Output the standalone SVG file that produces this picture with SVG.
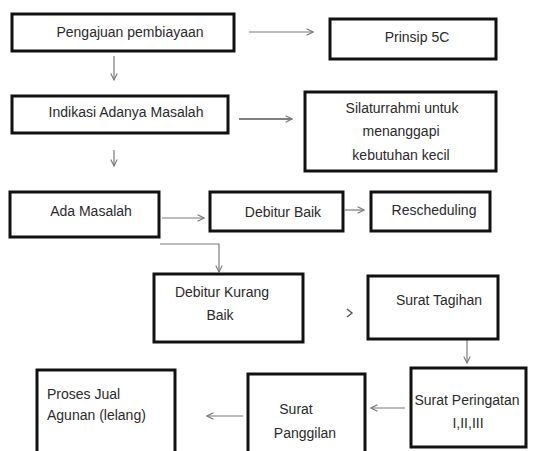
<svg xmlns="http://www.w3.org/2000/svg" width="533" height="451" viewBox="0 0 533 451">
<style>
.box{fill:#fff;stroke:#111;stroke-width:3}
.t{font-family:"Liberation Sans",Arial,sans-serif;font-size:14px;fill:#2a2a2a;text-anchor:middle}
.l{text-anchor:start}
.c{fill:none;stroke:#7a7a7a;stroke-width:1.2}
</style>
<defs>
<marker id="ah" viewBox="0 0 10 10" refX="9" refY="5" markerWidth="8" markerHeight="8" markerUnits="userSpaceOnUse" orient="auto">
<path d="M1,1 L9,5 L1,9" fill="none" stroke="#7a7a7a" stroke-width="1.4"/>
</marker>
</defs>
<rect width="533" height="451" fill="#fff"/>
<g id="connectors">
<line class="c" x1="249" y1="32" x2="313" y2="32" marker-end="url(#ah)"/>
<line class="c" x1="114" y1="56" x2="114" y2="80" marker-end="url(#ah)"/>
<line class="c" x1="239" y1="119" x2="292" y2="119" marker-end="url(#ah)" style="stroke:#555;stroke-width:1.6"/>
<line class="c" x1="114" y1="150" x2="114" y2="166" marker-end="url(#ah)"/>
<line class="c" x1="162" y1="218" x2="204" y2="218" marker-end="url(#ah)"/>
<line class="c" x1="345" y1="210" x2="364" y2="210" marker-end="url(#ah)"/>
<polyline class="c" points="160,244 219,244 219,272" marker-end="url(#ah)"/>
<path d="M347,309 L352,313 L347,317" fill="none" stroke="#555" stroke-width="1.4"/>
<line class="c" x1="467" y1="340" x2="467" y2="363" marker-end="url(#ah)"/>
<line class="c" x1="405" y1="408" x2="371" y2="408" marker-end="url(#ah)"/>
<line class="c" x1="243" y1="416" x2="207" y2="416" marker-end="url(#ah)"/>
</g>
<g id="n1"><rect class="box" x="12" y="14" width="222" height="37"/><text class="t" x="130" y="37">Pengajuan pembiayaan</text></g>
<g id="n2"><rect class="box" x="330" y="19" width="166" height="40"/><text class="t" x="417" y="42">Prinsip 5C</text></g>
<g id="n3"><rect class="box" x="12" y="96" width="216" height="37"/><text class="t" x="126" y="117">Indikasi Adanya Masalah</text></g>
<g id="n4"><rect class="box" x="305" y="92" width="191" height="79"/><text class="t" x="402" y="113">Silaturrahmi untuk</text><text class="t" x="401" y="136">menanggapi</text><text class="t" x="401" y="160">kebutuhan kecil</text></g>
<g id="n5"><rect class="box" x="10" y="192" width="149" height="45"/><text class="t" x="91" y="216">Ada Masalah</text></g>
<g id="n6"><rect class="box" x="210" y="192" width="133" height="39"/><text class="t" x="283" y="217">Debitur Baik</text></g>
<g id="n7"><rect class="box" x="371" y="192" width="119" height="39"/><text class="t" x="434" y="215">Rescheduling</text></g>
<g id="n8"><rect class="box" x="154" y="274" width="149" height="68"/><text class="t" x="222" y="297">Debitur Kurang</text><text class="t" x="220" y="320">Baik</text></g>
<g id="n9"><rect class="box" x="368" y="276" width="130" height="63"/><text class="t" x="439" y="305">Surat Tagihan</text></g>
<g id="n10"><rect class="box" x="411" y="368" width="115" height="79"/><text class="t" x="467" y="405">Surat Peringatan</text><text class="t" x="468" y="428">I,II,III</text></g>
<g id="n11"><rect class="box" x="248" y="374" width="117" height="90"/><text class="t" x="296" y="414">Surat</text><text class="t" x="305" y="438">Panggilan</text></g>
<g id="n12"><rect class="box" x="37" y="370" width="138" height="90"/><text class="t l" x="47" y="399">Proses Jual</text><text class="t l" x="47" y="420">Agunan (lelang)</text></g>
</svg>
